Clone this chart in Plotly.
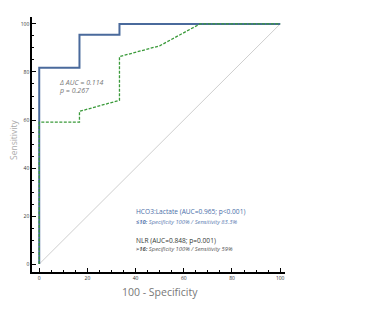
import plotly.graph_objects as go

# ROC data (x = 100 - Specificity, y = Sensitivity)
hco3_x = [0, 0, 16.7, 16.7, 33.3, 33.3, 100]
hco3_y = [0, 81.8, 81.8, 95.5, 95.5, 100, 100]
nlr_x = [0, 0, 16.7, 16.7, 33.3, 33.3, 50, 66.7, 100]
nlr_y = [0, 59.1, 59.1, 63.6, 68.2, 86.4, 90.9, 100, 100]
ref_x = [0, 100]
ref_y = [0, 100]
tick_vals = [0, 20, 40, 60, 80, 100]

BLUE = "#4a6a9c"
GREEN = "#3a9a3a"
FONT = "Open Sans"

fig = go.Figure()
fig.add_trace(go.Scatter(x=ref_x, y=ref_y, mode="lines",
                         line=dict(color="#cfcfcf", width=1), hoverinfo="skip"))
fig.add_trace(go.Scatter(x=hco3_x, y=hco3_y, mode="lines",
                         line=dict(color=BLUE, width=2)))
fig.add_trace(go.Scatter(x=nlr_x, y=nlr_y, mode="lines",
                         line=dict(color=GREEN, width=1.3, dash="3px,1.5px")))

axis_common = dict(
    showgrid=False, zeroline=False, showline=True, linecolor="black", linewidth=1.5,
    ticks="inside", ticklen=4, tickwidth=1, tickcolor="black",
    tickvals=tick_vals, tickfont=dict(size=5, color="#333", family=FONT),
    minor=dict(dtick=5, tick0=0, ticks="inside", ticklen=2, tickcolor="black", tickwidth=1),
)

W, H = 365, 301
l, r, t, b = 24, 88, 9, 37
pw, ph = W - l - r, H - t - b

fig.update_layout(
    width=W, height=H,
    margin=dict(l=l, r=r, t=t, b=b, autoexpand=False),
    plot_bgcolor="white", paper_bgcolor="white",
    showlegend=False,
    font=dict(family=FONT),
    xaxis=dict(range=[-3, 102], **axis_common),
    yaxis=dict(range=[-3.3, 102.9], **axis_common),
)

annots = [
    dict(x=7.5, y=75.6, text="<i>Δ AUC = 0.114</i>", color="#777", size=7),
    dict(x=7.5, y=72.2, text="<i>p = 0.267</i>", color="#777", size=7),
    dict(x=39.4, y=21.7, text="HCO3:Lactate (AUC=0.965; p&lt;0.001)", color="#4a6ea8", size=6.6),
    dict(x=39.4, y=17.6, text="<i><b>≤10:</b> Specificity 100% / Sensitivity 83.3%</i>", color="#5a7ab0", size=5.8),
    dict(x=39.4, y=10.0, text="NLR (AUC=0.848; p=0.001)", color="#333833", size=6.6),
    dict(x=39.4, y=6.2, text="<i><b>&gt;16:</b> Specificity 100% / Sensitivity 59%</i>", color="#555", size=5.8),
]
for a in annots:
    fig.add_annotation(x=a["x"], y=a["y"], xref="x", yref="y", text=a["text"],
                       showarrow=False, xanchor="left", yanchor="middle",
                       font=dict(size=a["size"], color=a["color"], family=FONT))

# titles placed by figure-pixel position (converted to paper coords)
fig.add_annotation(x=(152 - l) / pw, y=(H - b - 284) / ph, xref="paper", yref="paper",
                   text="100 - Specificity", showarrow=False,
                   font=dict(size=10.5, color="#777", family=FONT),
                   xanchor="center", yanchor="middle")
fig.add_annotation(x=(5 - l) / pw, y=(H - b - 132) / ph, xref="paper", yref="paper",
                   text="Sensitivity", showarrow=False, textangle=-90,
                   font=dict(size=8.5, color="#aaa", family=FONT),
                   xanchor="center", yanchor="middle")

fig.write_html("out.html")
